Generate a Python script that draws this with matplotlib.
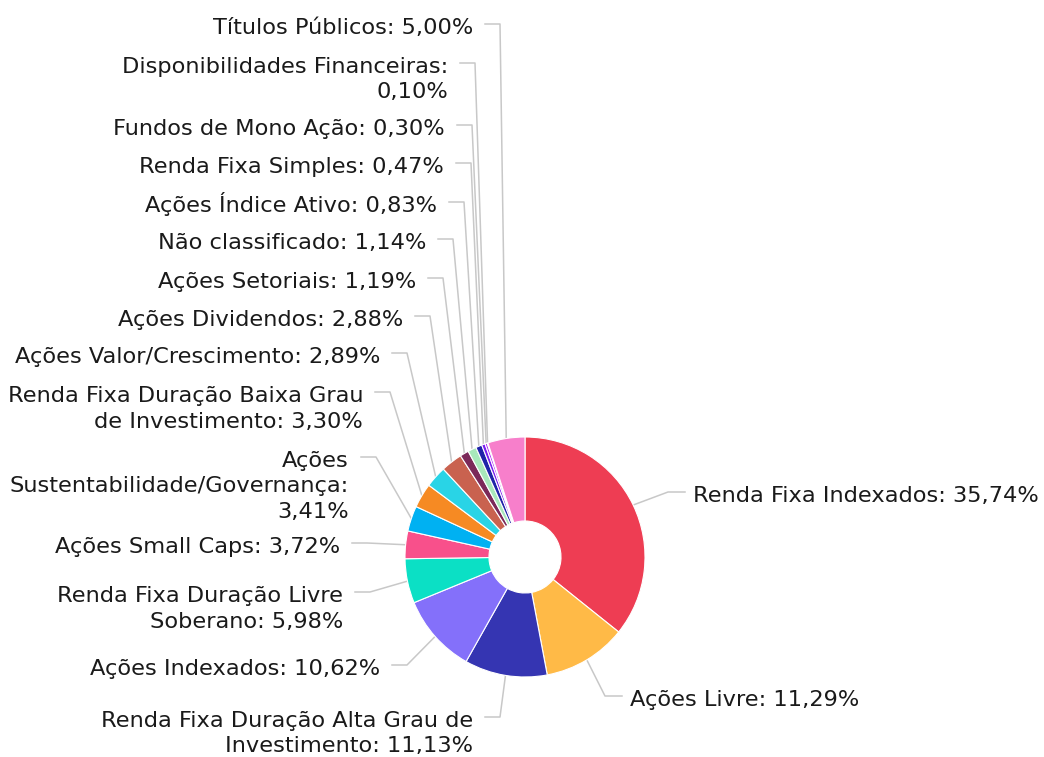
import matplotlib.pyplot as plt
import numpy as np

# dados da carteira (ordem horaria a partir do topo)
categorias = [
    "Renda Fixa Indexados", "Ações Livre",
    "Renda Fixa Duração Alta Grau de Investimento", "Ações Indexados",
    "Renda Fixa Duração Livre Soberano", "Ações Small Caps",
    "Ações Sustentabilidade/Governança", "Renda Fixa Duração Baixa Grau de Investimento",
    "Ações Valor/Crescimento", "Ações Dividendos", "Ações Setoriais",
    "Não classificado", "Ações Índice Ativo", "Renda Fixa Simples",
    "Fundos de Mono Ação", "Disponibilidades Financeiras", "Títulos Públicos",
]
valores = [35.74, 11.29, 11.13, 10.62, 5.98, 3.72, 3.41, 3.30, 2.89, 2.88,
           1.19, 1.14, 0.83, 0.47, 0.30, 0.10, 5.00]
cores = ["#EE3D53", "#FFBA47", "#3535B2", "#8470FA", "#0BE0C5", "#F8508B",
         "#00B1F2", "#F68A23", "#29D4E6", "#C9624F", "#7B2959", "#A8E8BB",
         "#1F23A8", "#7A1FF0", "#B22BF7", "#3F8C9A", "#F77FCB"]
# quebras de linha dos rotulos como no original
quebras = {
    "Renda Fixa Duração Alta Grau de Investimento": ["Renda Fixa Duração Alta Grau de", "Investimento: {}"],
    "Renda Fixa Duração Livre Soberano": ["Renda Fixa Duração Livre", "Soberano: {}"],
    "Ações Sustentabilidade/Governança": ["Ações", "Sustentabilidade/Governança:", "{}"],
    "Renda Fixa Duração Baixa Grau de Investimento": ["Renda Fixa Duração Baixa Grau", "de Investimento: {}"],
    "Disponibilidades Financeiras": ["Disponibilidades Financeiras:", "{}"],
}

# posicao dos rotulos em pixels: (x da borda do texto, baseline da 1a linha, lado)
pos_rotulos = [
    (693, 502, "d"), (630, 706, "d"), (473, 727, "e"), (380, 675, "e"),
    (343, 602, "e"), (340, 553, "e"), (349, 467, "e"), (363, 402, "e"),
    (380, 363, "e"), (403, 326, "e"), (416, 288, "e"), (426, 249, "e"),
    (437, 212, "e"), (444, 173, "e"), (445, 135, "e"), (448, 73, "e"),
    (473, 34, "e"),
]

W, H = 1044, 757
cx, cy, raio, furo = 525, 557, 120, 36
entrelinha = 25.5


def py(y):  # pixel (de cima) -> coordenada de dados
    return H - y


fig = plt.figure(figsize=(W / 100, H / 100), dpi=100)
ax = fig.add_axes([0, 0, 1, 1])

fatias, _ = ax.pie(valores, colors=cores, startangle=90, counterclock=False,
                   radius=raio, center=(cx, py(cy)),
                   wedgeprops=dict(width=raio - furo, edgecolor="white", linewidth=0.8))
ax.set_xlim(0, W)
ax.set_ylim(0, H)
ax.set_aspect("equal")
ax.axis("off")


def fmt(v):
    return ("%.2f%%" % v).replace(".", ",")


for fatia, cat, v, (tx, ty, lado) in zip(fatias, categorias, valores, pos_rotulos):
    if cat in quebras:
        linhas = [l.format(fmt(v)) for l in quebras[cat]]
    else:
        linhas = [cat + ": " + fmt(v)]
    for i, l in enumerate(linhas):
        ax.text(tx, py(ty + i * entrelinha), l, ha="right" if lado == "e" else "left",
                va="baseline", fontsize=16.2, color="#1a1a1a")

    ang = np.deg2rad((fatia.theta1 + fatia.theta2) / 2)
    ax_, ay_ = cx + raio * np.cos(ang), py(cy) + raio * np.sin(ang)
    ly = py(ty - 10)
    if lado == "e":
        x0 = tx + 12
        x1 = x0 + 15
    else:
        x0 = tx - 8
        x1 = x0 - 17
    ax.plot([x0, x1, ax_], [ly, ly, ay_], color="#c8c8c8", lw=1.1, zorder=0)

plt.savefig("out.png", dpi=100)
